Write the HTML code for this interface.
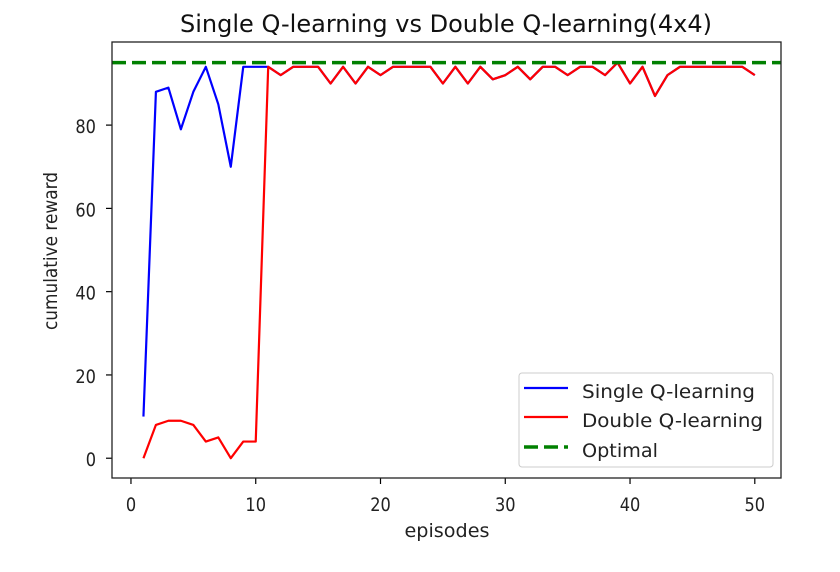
<!DOCTYPE html>
<html><head><meta charset="utf-8"><style>
html,body{margin:0;padding:0;background:#fff;}
svg{display:block;font-family:"DejaVu Sans","Liberation Sans",sans-serif;}
</style></head><body>
<svg id="chart" width="840" height="572" viewBox="0 0 840 572" xmlns="http://www.w3.org/2000/svg"></svg>
<script>
const episodes = Array.from({length:50},(_,i)=>i+1);
const doubleQ = [0,8,9,9,8,4,5,0,4,4,94,92,94,94,94,90,94,90,94,92,94,94,94,94,90,94,90,94,91,92,94,91,94,94,92,94,94,92,95,90,94,87,92,94,94,94,94,94,94,92];
const singleQ = [10,88,89,79,88,94,85,70,94,94,94,92,94,94,94,90,94,90,94,92,94,94,94,94,90,94,90,94,91,92,94,91,94,94,92,94,94,92,95,90,94,87,92,94,94,94,94,94,94,92];
const optimal = [95];
const xTicks = [0,10,20,30,40,50];
const yTicks = [0,20,40,60,80];

const NS="http://www.w3.org/2000/svg";
const svg=document.getElementById('chart');
const L=112,R=781,T=42,B=478;
const X0=-1.52,X1=52.1,Y0=-4.75,Y1=99.96;
const sx=v=>L+(v-X0)/(X1-X0)*(R-L);
const sy=v=>B-(v-Y0)/(Y1-Y0)*(B-T);
function mk(tag,attrs,parent){const e=document.createElementNS(NS,tag);for(const k in attrs)e.setAttribute(k,attrs[k]);(parent||svg).appendChild(e);return e;}

const title=mk('text',{x:446,y:32,'text-anchor':'middle','font-size':'24',fill:'#111',textLength:532,lengthAdjust:'spacingAndGlyphs'});
title.textContent='Single Q-learning vs Double Q-learning(4x4)';



xTicks.forEach(t=>{
  const g=mk('g',{});
  
  
  mk('line',{x1:sx(t),x2:sx(t),y1:B,y2:B+6,stroke:'#000','stroke-width':1.2},g);
  const tx=mk('text',{x:sx(t),y:511,'text-anchor':'middle','font-size':'19',fill:'#222',textLength:String(t).length*10.3,lengthAdjust:'spacingAndGlyphs'},g);
  tx.textContent=t;
});
yTicks.forEach(t=>{
  const g=mk('g',{});
  
  
  mk('line',{x1:L-6,x2:L,y1:sy(t),y2:sy(t),stroke:'#000','stroke-width':1.2},g);
  const tx=mk('text',{x:96,y:sy(t)+8,'text-anchor':'end','font-size':'19',fill:'#222',textLength:String(t).length*10.3,lengthAdjust:'spacingAndGlyphs'},g);
  tx.textContent=t;
});
const xl=mk('text',{x:447,y:537,'text-anchor':'middle','font-size':'19',fill:'#222',textLength:85,lengthAdjust:'spacingAndGlyphs'});
xl.textContent='episodes';


const yl=mk('text',{x:0,y:0,'text-anchor':'middle','font-size':'19',fill:'#222',textLength:158,lengthAdjust:'spacingAndGlyphs',transform:'translate(57,251) rotate(-90)'});
yl.textContent='cumulative reward';



function series(vals,color,name){
  const p=mk('polyline',{points:vals.map((v,i)=>sx(episodes[i])+','+sy(v)).join(' '),fill:'none',stroke:color,'stroke-width':2.2,'stroke-linejoin':'round'});
  
  
}
series(singleQ,'#0000ff','single-q-line');
series(doubleQ,'#ff0000','double-q-line');
const opt=mk('line',{x1:L,x2:R,y1:sy(optimal[0]),y2:sy(optimal[0]),stroke:'#008000','stroke-width':3.5,'stroke-dasharray':'14,6'});



const frame=mk('rect',{x:L,y:T,width:R-L,height:B-T,fill:'none',stroke:'#222','stroke-width':1.3});



const lg=mk('g',{});


mk('rect',{x:519,y:373,width:254,height:94,rx:3,fill:'#fff','fill-opacity':0.85,stroke:'#ccc','stroke-width':1},lg);
const entries=[['Single Q-learning','#0000ff',388,'',2.2,173],['Double Q-learning','#ff0000',417,'',2.2,181],['Optimal','#008000',447,'14,6',3.5,76]];
entries.forEach(([lab,c,y,d,w,len])=>{
  const g=mk('g',{},lg);
  
  
  const ln=mk('line',{x1:524,x2:568,y1:y,y2:y,stroke:c,'stroke-width':w},g);
  if(d) ln.setAttribute('stroke-dasharray',d);
  const t=mk('text',{x:582,y:y+10,'font-size':'19',fill:'#222',textLength:len,lengthAdjust:'spacingAndGlyphs'},g);
  t.textContent=lab;
});
</script>
</body></html>
